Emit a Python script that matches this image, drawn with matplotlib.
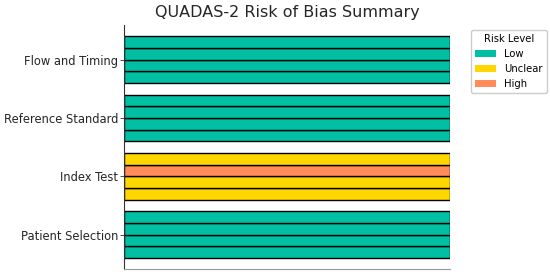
import matplotlib.pyplot as plt
import numpy as np
from matplotlib.patches import Patch

# QUADAS-2 domains, bottom to top
domains = ['Patient Selection', 'Index Test', 'Reference Standard', 'Flow and Timing']
# risk per study (4 studies), listed bottom bar first
risk = {
    'Patient Selection': ['Low', 'Low', 'Low', 'Low'],
    'Index Test': ['Unclear', 'Unclear', 'High', 'Unclear'],
    'Reference Standard': ['Low', 'Low', 'Low', 'Low'],
    'Flow and Timing': ['Low', 'Low', 'Low', 'Low'],
}
levels = ['Low', 'Unclear', 'High']
colors = {'Low': '#00BFA3', 'Unclear': '#FFD700', 'High': '#FF8C5A'}

fig, ax = plt.subplots(figsize=(5.5, 2.76), dpi=100)
fig.subplots_adjust(left=0.2255, right=0.818, bottom=0.025, top=0.909)

n_studies = 4
h = 0.2
offsets = (np.arange(n_studies) - (n_studies - 1) / 2) * h
for i, d in enumerate(domains):
    for j, r in enumerate(risk[d]):
        ax.barh(i + offsets[j], 1, height=h, color=colors[r],
                edgecolor='black', linewidth=1, zorder=2)

ax.set_yticks(range(len(domains)))
ax.set_yticklabels(domains, fontsize=8.3, color='#262626')
ax.set_xticks([])
ax.set_xlim(0, 1)
ax.yaxis.grid(True, linestyle='--', color='black', linewidth=0.6, zorder=3)
ax.set_axisbelow(False)
ax.tick_params(axis='y', length=3, width=0.6, pad=1, color='#333333')
for s in ['top', 'right']:
    ax.spines[s].set_visible(False)
ax.spines['left'].set_color('#333333')
ax.spines['bottom'].set_color('#999999')
ax.set_title('QUADAS-2 Risk of Bias Summary', fontsize=11.5, color='#262626')

handles = [Patch(facecolor=colors[l], label=l) for l in levels]
ax.legend(handles=handles, title='Risk Level', loc='upper left',
          bbox_to_anchor=(1.05, 1.0), fontsize=7.2, title_fontsize=7.2,
          handlelength=2.1, handletextpad=0.8, framealpha=1)

plt.savefig('out.png', dpi=100)
